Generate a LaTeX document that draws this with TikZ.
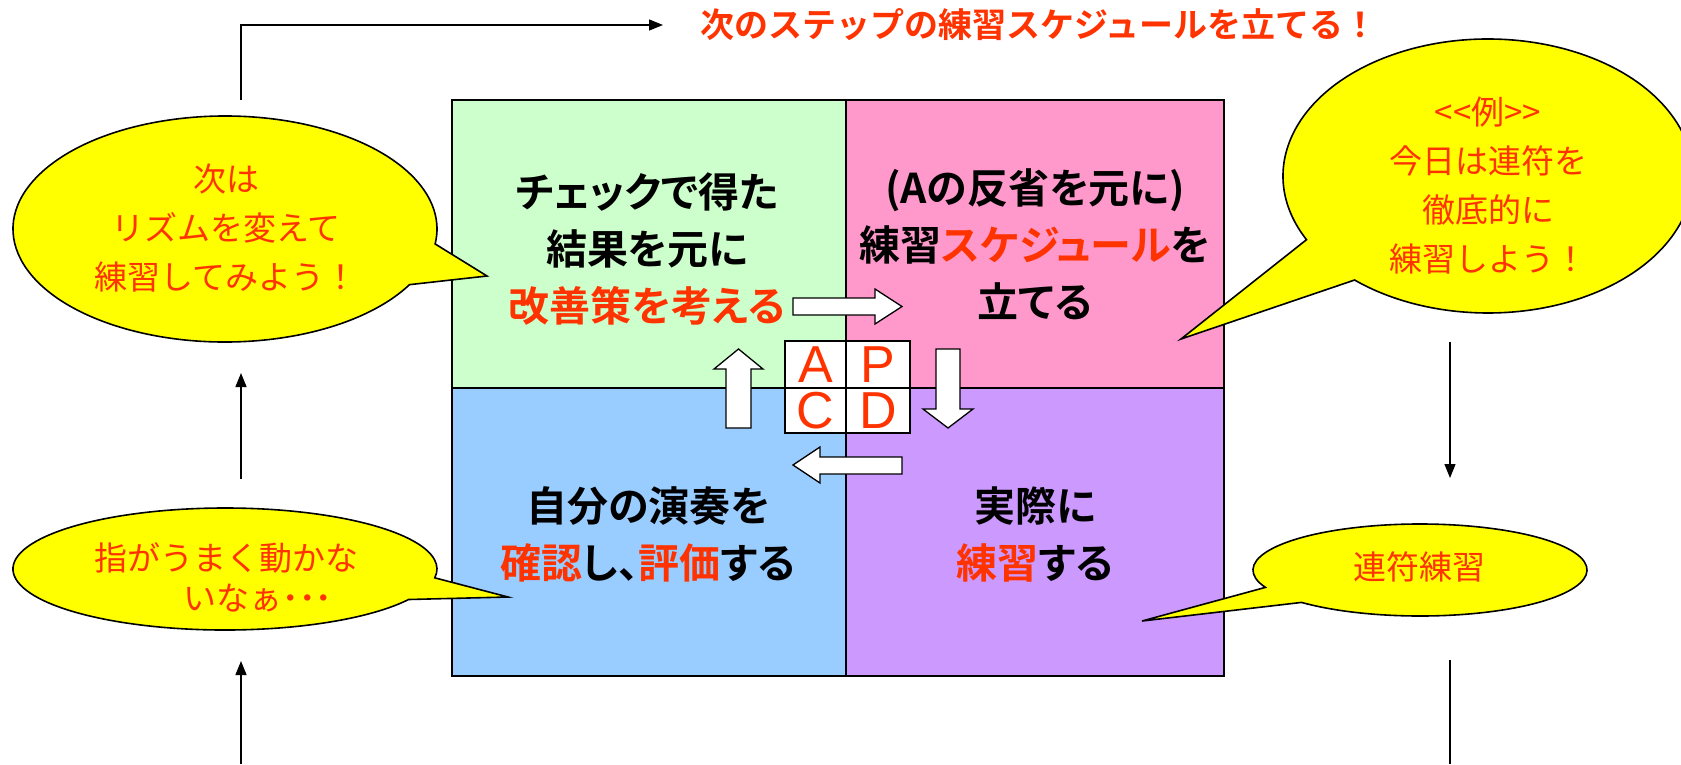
\documentclass[tikz,border=0pt]{standalone}
\usepackage{fontspec}
\usetikzlibrary{arrows.meta,calc}
\newfontfamily\jp{Noto Sans CJK JP}[BoldFont={Noto Sans CJK JP Bold}]
\newfontfamily\jpp{Noto Sans CJK JP}[BoldFont={Noto Sans CJK JP Bold},RawFeature=+palt]
\newfontfamily\lat{Liberation Sans}
\definecolor{rd}{RGB}{255,51,0}
\definecolor{qgreen}{RGB}{204,255,204}
\definecolor{qpink}{RGB}{255,153,204}
\definecolor{qblue}{RGB}{153,204,255}
\definecolor{qpurple}{RGB}{204,153,255}
\definecolor{byellow}{RGB}{255,255,0}
\begin{document}
\begin{tikzpicture}[x=1pt,y=-1pt,
  blockarrow/.style={draw=black, fill=white, line width=1.3pt, line join=miter},
  bubble/.style={draw=black, fill=byellow, line width=1.6pt},
  conn/.style={line width=1.3pt, -{Triangle[length=14pt,width=11pt]}},
  plainline/.style={line width=1.3pt},
  qtext/.style={align=center, font=\jpp\bfseries\fontsize{41}{57}\selectfont, inner sep=0pt},
  btext/.style={align=center, text=rd, font=\jp\fontsize{33}{49}\selectfont, inner sep=0pt},
  ttext/.style={text=rd, font=\jp\bfseries\fontsize{34}{40}\selectfont, inner sep=0pt},
  letter/.style={text=rd, font=\lat\fontsize{52}{52}\selectfont, inner sep=0pt}
]
\clip (0,0) rectangle (1681,764);
\fill[white] (0,0) rectangle (1681,764);

% quadrants
\fill[qgreen] (452,100) rectangle (846,388);
\fill[qpink] (846,100) rectangle (1224,388);
\fill[qblue] (452,388) rectangle (846,676);
\fill[qpurple] (846,388) rectangle (1224,676);
\draw[line width=1.6pt] (846,100) -- (846,676) (452,388) -- (1224,388);
\draw[line width=2pt] (452,100) rectangle (1224,676);

% block arrows
\draw[blockarrow] (793,298) -- (875,298) -- (875,289) -- (902,306.5) -- (875,324) -- (875,315) -- (793,315) -- cycle;
\draw[blockarrow] (726,428) -- (726,369) -- (714,369) -- (738.5,349) -- (763,369) -- (751,369) -- (751,428) -- cycle;
\draw[blockarrow] (936,349) -- (960,349) -- (960,409) -- (973,409) -- (948,428) -- (923,409) -- (936,409) -- cycle;
\draw[blockarrow] (902,457) -- (820,457) -- (820,447) -- (793,465) -- (820,483) -- (820,474) -- (902,474) -- cycle;

% APCD box
\draw[line width=1.3pt, fill=white] (785,341) rectangle (910,433);
\draw[line width=1.6pt] (846,341) -- (846,433) (785,388) -- (910,388);
\node[letter] (la) at (815.5,364.5) {A};
\node[letter] (lp) at (878,364.5) {P};
\node[letter] (lc) at (815.5,410.5) {C};
\node[letter] (ld) at (878,410.5) {D};

% bubbles
\path[bubble] ($(225,229)+(29.5:212 and 113)$) arc[start angle=29.5, end angle=367.6, x radius=212, y radius=113] -- (487,276) -- cycle;
\path[bubble] ($(225,569)+(30:212 and 61)$) arc[start angle=30, end angle=368.3, x radius=212, y radius=61] -- (508,597) -- cycle;
\path[bubble] ($(1488,176)+(152.3:205 and 137)$) arc[start angle=152.3, end angle=490.6, x radius=205, y radius=137] -- (1181,339) -- cycle;
\path[bubble] ($(1420,570)+(157.8:167 and 46)$) arc[start angle=157.8, end angle=495.2, x radius=167, y radius=46] -- (1142,621) -- cycle;

% connectors
\coordinate (t0) at (241,100);
\coordinate (t1) at (241,25);
\coordinate (t2) at (663,25);
\draw[conn] (t0) -- (t1) -- (t2);
\coordinate (l0) at (241,764);
\coordinate (l1) at (241,661);
\draw[conn] (l0) -- (l1);
\coordinate (l2) at (241,479);
\coordinate (l3) at (241,373);
\draw[conn] (l2) -- (l3);
\coordinate (r0) at (1450,342);
\coordinate (r1) at (1450,478);
\draw[conn] (r0) -- (r1);
\coordinate (r2) at (1450,660);
\coordinate (r3) at (1450,764);
\draw[plainline] (r2) -- (r3);

% title
\node[ttext] (title) at (1039,25) {次のステップの練習スケジュールを立てる！};

% quadrant texts
\node[qtext] (q1) at (647,249) {チェックで得た\\結果を元に\\\textcolor{rd}{改善策を考える}};
\node[qtext] (q2) at (1035,244) {(Aの反省を元に)\\練習\textcolor{rd}{スケジュール}を\\立てる};
\node[qtext] (q3) at (648,534) {自分の演奏を\\\textcolor{rd}{確認}し、\textcolor{rd}{評価}する};
\node[qtext] (q4) at (1035,534) {実際に\\\textcolor{rd}{練習}する};

% bubble texts
\node[btext] (b1) at (226,228) {次は\\リズムを変えて\\練習してみよう！};
\node[btext] (b2a) at (226,558) {指がうまく動かな};
\node[btext] (b2b) at (258,598) {いなぁ{\bfseries ･･･}};
\node[btext] (b3) at (1488,186) {\textless\textless 例\textgreater\textgreater\\今日は連符を\\徹底的に\\練習しよう！};
\node[btext] (b4) at (1419,567) {連符練習};
\end{tikzpicture}
\end{document}
